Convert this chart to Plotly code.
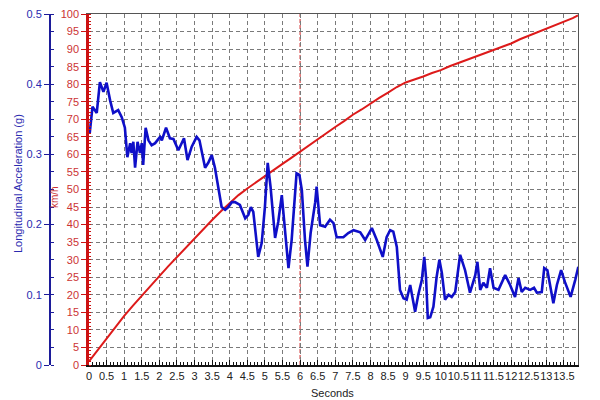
import plotly.graph_objects as go

# ---------------- data ----------------
speed_time = [0, 0.25, 0.5, 0.75, 1.0, 1.25, 1.5, 1.75, 2.0, 2.25, 2.5, 2.75, 3.0, 3.25, 3.5, 3.75,
              4.0, 4.25, 4.5, 4.75, 5.0, 5.25, 5.5, 5.75, 6.0, 6.25, 6.5, 6.75, 7.0, 7.25, 7.5, 7.75,
              8.0, 8.25, 8.5, 8.75, 9.0, 9.25, 9.5, 9.75, 10.0, 10.25, 10.5, 10.75, 11.0, 11.25, 11.5,
              11.75, 12.0, 12.25, 12.5, 12.75, 13.0, 13.25, 13.5, 13.75, 13.9]
speed_kmh = [1.0, 4.3, 7.5, 10.8, 14.0, 16.9, 19.8, 22.5, 25.3, 28.1, 30.8, 33.3, 36.0, 38.7, 41.3, 43.8,
             46.2, 48.4, 50.3, 52.1, 53.8, 55.6, 57.3, 59.0, 60.8, 62.4, 64.2, 66.0, 67.8, 69.5, 71.3, 72.8,
             74.5, 76.1, 77.6, 79.2, 80.5, 81.3, 82.2, 83.2, 84.0, 85.1, 86.0, 87.0, 87.8, 88.8, 89.6,
             90.6, 91.6, 92.8, 93.8, 94.8, 95.8, 96.7, 97.6, 98.8, 99.6]

accel_time = [0.02, 0.1, 0.22, 0.31, 0.41, 0.50, 0.60, 0.69, 0.83, 0.93, 1.02, 1.09, 1.17, 1.21, 1.26,
              1.31, 1.38, 1.45, 1.50, 1.54, 1.61, 1.69, 1.78, 1.88, 2.02, 2.07, 2.19, 2.30, 2.40, 2.54,
              2.70, 2.80, 2.92, 3.06, 3.14, 3.30, 3.39, 3.49, 3.58, 3.68, 3.77, 3.87, 3.96, 4.06, 4.15,
              4.29, 4.44, 4.53, 4.60, 4.67, 4.81, 4.91, 5.00, 5.08, 5.12, 5.16, 5.29, 5.38, 5.48, 5.54,
              5.67, 5.76, 5.86, 5.90, 5.98, 6.05, 6.14, 6.21, 6.30, 6.43, 6.47, 6.52, 6.57, 6.71, 6.85,
              6.95, 7.04, 7.23, 7.37, 7.52, 7.66, 7.71, 7.85, 8.04, 8.18, 8.35, 8.46, 8.56, 8.65, 8.75,
              8.84, 8.94, 9.03, 9.13, 9.17, 9.27, 9.36, 9.46, 9.53, 9.58, 9.63, 9.70, 9.79, 9.88, 9.96,
              10.03, 10.12, 10.22, 10.31, 10.41, 10.55, 10.69, 10.83, 10.98, 11.04, 11.12, 11.21, 11.31,
              11.40, 11.50, 11.64, 11.83, 11.97, 12.11, 12.21, 12.30, 12.40, 12.54, 12.65, 12.73, 12.87,
              12.94, 13.03, 13.20, 13.30, 13.42, 13.53, 13.69, 13.82, 13.91]
accel_g = [0.330, 0.368, 0.359, 0.403, 0.389, 0.402, 0.377, 0.359, 0.363, 0.353, 0.338, 0.296, 0.316, 0.302, 0.318,
           0.281, 0.318, 0.302, 0.316, 0.285, 0.338, 0.320, 0.313, 0.316, 0.325, 0.320, 0.338, 0.323, 0.322, 0.306,
           0.323, 0.292, 0.311, 0.325, 0.320, 0.281, 0.288, 0.299, 0.281, 0.249, 0.225, 0.221, 0.225, 0.232, 0.232,
           0.228, 0.209, 0.214, 0.225, 0.218, 0.154, 0.174, 0.225, 0.288, 0.273, 0.254, 0.181, 0.204, 0.242, 0.207,
           0.138, 0.178, 0.249, 0.273, 0.271, 0.249, 0.178, 0.140, 0.188, 0.232, 0.254, 0.225, 0.199, 0.197, 0.207,
           0.202, 0.182, 0.182, 0.188, 0.192, 0.189, 0.189, 0.178, 0.195, 0.178, 0.154, 0.182, 0.192, 0.190, 0.168,
           0.107, 0.095, 0.093, 0.114, 0.103, 0.076, 0.100, 0.121, 0.154, 0.125, 0.067, 0.068, 0.083, 0.125, 0.150,
           0.131, 0.093, 0.100, 0.097, 0.104, 0.157, 0.135, 0.103, 0.128, 0.147, 0.107, 0.117, 0.110,
           0.138, 0.110, 0.107, 0.128, 0.114, 0.097, 0.124, 0.104, 0.110, 0.107, 0.110, 0.103, 0.104,
           0.138, 0.135, 0.088, 0.114, 0.135, 0.118, 0.097, 0.121, 0.140]

x_tick_vals = [i * 0.5 for i in range(28)]
x_tick_text = ["0", "0.5", "1", "1.5", "2", "2.5", "3", "3.5", "4", "4.5", "5", "5.5", "6", "6.5", "7",
               "7.5", "8", "8.5", "9", "9.5", "10", "10.5", "11", "11.5", "12", "12.5", "13", "13.5"]
kmh_tick_vals = list(range(0, 101, 5))
g_tick_vals = [0, 0.1, 0.2, 0.3, 0.4, 0.5]
g_tick_text = ["0", "0.1", "0.2", "0.3", "0.4", "0.5"]
marker_time = 6

# ---------------- figure ----------------
FONT = "Liberation Sans, Arial, sans-serif"
RED = "#dd1a1a"
BLUE = "#0f0fc8"
AXBLUE = "#1c1c9a"
DOM = [39 / 528, 1]

fig = go.Figure()
fig.add_trace(go.Scatter(x=speed_time, y=speed_kmh, mode="lines",
                         line=dict(color=RED, width=2), yaxis="y", showlegend=False))
fig.add_trace(go.Scatter(x=accel_time, y=accel_g, mode="lines",
                         line=dict(color=BLUE, width=2.6), yaxis="y2", showlegend=False))
# invisible trace to activate the frame axes (top and right border lines)
fig.add_trace(go.Scatter(x=[None], y=[None], xaxis="x2", yaxis="y3", showlegend=False,
                         hoverinfo="skip"))

fig.add_shape(type="line", xref="x", yref="y", x0=marker_time, x1=marker_time, y0=0, y1=100,
              line=dict(color="#cc1f1f", width=1, dash="4px,2px"), layer="below")

# the page body adds an 8px offset, so margins are shifted to compensate
fig.update_layout(
    width=600, height=400,
    margin=dict(l=42, r=30, t=6, b=43, autoexpand=False),
    paper_bgcolor="white", plot_bgcolor="white",
    font=dict(family=FONT, size=11),
    xaxis=dict(domain=DOM, range=[0, 13.9], automargin=False,
               tickmode="array", tickvals=x_tick_vals, ticktext=x_tick_text, tickangle=0,
               tickfont=dict(color="#222222", size=11), ticklabeloverflow="allow",
               showline=True, linecolor="#111111", linewidth=2, mirror=False,
               ticks="inside", ticklen=5, tickcolor="#111111",
               minor=dict(dtick=0.1, ticks="inside", ticklen=3, tickcolor="#111111", showgrid=False),
               showgrid=True, gridcolor="#7a7a7a", griddash="4px,3px", gridwidth=1,
               zeroline=False, fixedrange=True),
    xaxis2=dict(overlaying="x", anchor="y", domain=DOM, range=[0, 13.9], automargin=False,
                showticklabels=False, showgrid=False, ticks="",
                showline=True, linecolor="#555555", linewidth=1.2, side="top", zeroline=False),
    yaxis=dict(range=[0, 100], tickmode="array", tickvals=kmh_tick_vals, automargin=False,
               tickfont=dict(color="#cc3333", size=11), ticklabeloverflow="allow",
               showline=True, linecolor="#cc1111", linewidth=2.5,
               ticks="outside", ticklen=5, tickcolor="#cc1111",
               minor=dict(dtick=1, ticks="inside", ticklen=2, tickcolor="#cc1111", showgrid=False),
               showgrid=True, gridcolor="#7a7a7a", griddash="4px,3px", gridwidth=1,
               zeroline=False, fixedrange=True),
    yaxis2=dict(range=[0, 0.5], overlaying="y", anchor="free", position=0, side="left",
                automargin=False, ticklabeloverflow="allow",
                tickmode="array", tickvals=g_tick_vals, ticktext=g_tick_text,
                tickfont=dict(color="#2a2ab0", size=11),
                showline=True, linecolor=AXBLUE, linewidth=2,
                ticks="outside", ticklen=5, tickcolor=AXBLUE,
                minor=dict(dtick=0.025, ticks="inside", ticklen=3, tickcolor=AXBLUE, showgrid=False),
                showgrid=False, zeroline=False, fixedrange=True),
    yaxis3=dict(overlaying="y", anchor="x", side="right", range=[0, 100], showticklabels=False,
                showgrid=False, ticks="", showline=True, linecolor="#555555", linewidth=1.2,
                zeroline=False, automargin=False),
    annotations=[
        dict(text="Longitudinal Acceleration (g)", xref="paper", yref="paper",
             x=(18 - 50) / 528, y=(365 - 184) / 351, xanchor="center", yanchor="middle",
             textangle=-90, showarrow=False,
             font=dict(color="#2a2ab0", size=11)),
        dict(text="km/h", xref="paper", yref="paper",
             x=(55 - 50) / 528, y=(365 - 197) / 351, xanchor="center", yanchor="middle",
             textangle=-90, showarrow=False,
             font=dict(color="#cc3333", size=10)),
        dict(text="Seconds", xref="paper", yref="paper",
             x=(332 - 50) / 528, y=(365 - 393) / 351, xanchor="center", yanchor="middle",
             showarrow=False,
             font=dict(color="#222222", size=11)),
    ],
)

fig.write_html("out.html")
